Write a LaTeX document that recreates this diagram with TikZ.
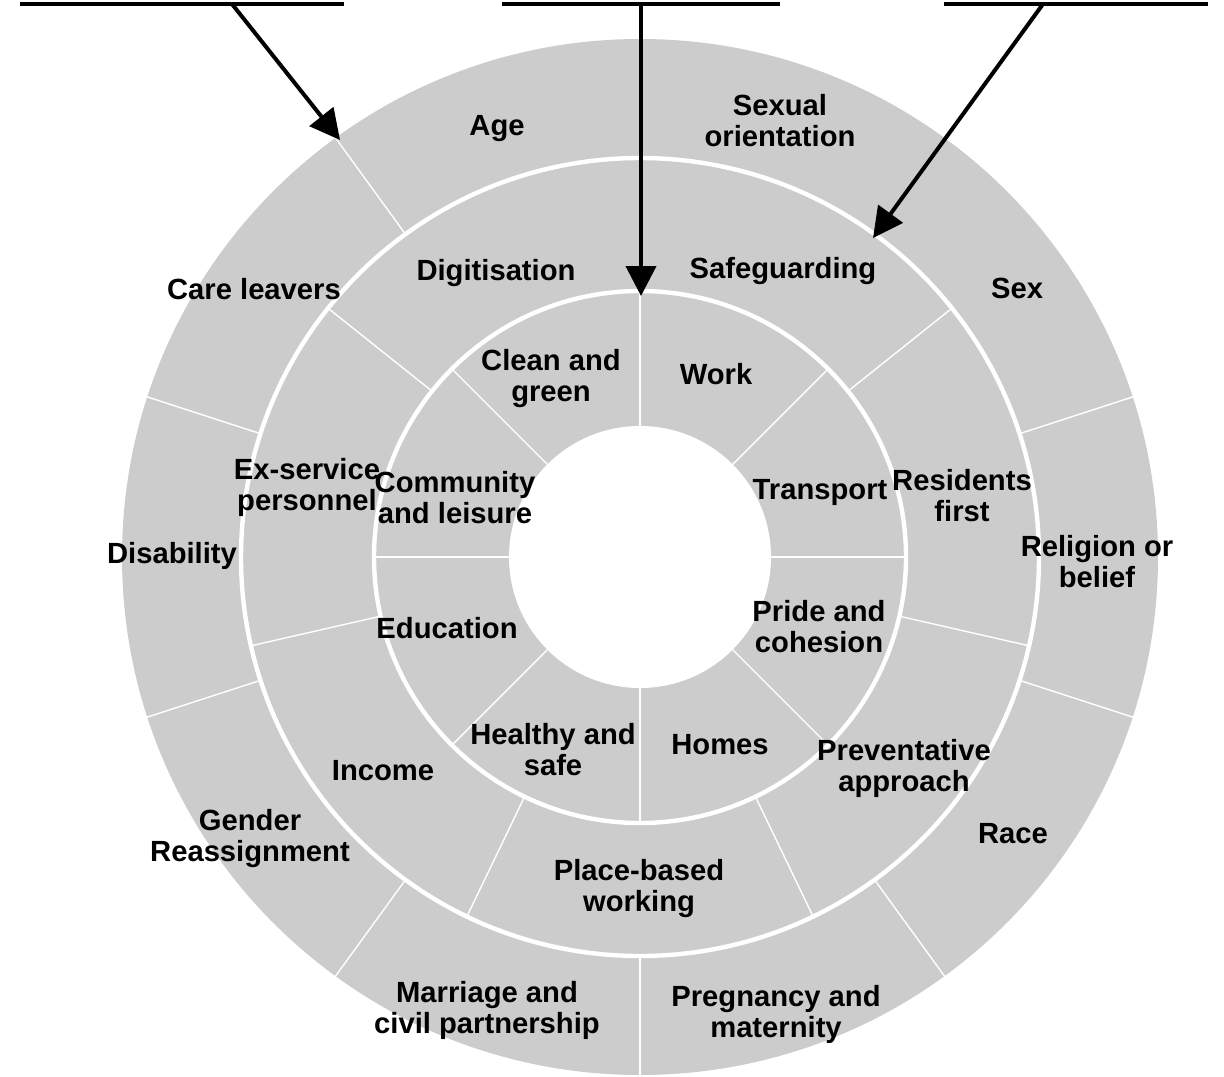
\documentclass[tikz,border=0pt]{standalone}
\usepackage{fontspec}
\setmainfont{Liberation Sans}
\usetikzlibrary{arrows.meta}
\definecolor{wheel}{RGB}{204,204,204}
\definecolor{ink}{RGB}{0,0,0}
\tikzset{
  >={Triangle[length=15pt,width=15pt]},
  lbl/.style={font={\fontsize{14.6pt}{15.5pt}\selectfont\bfseries},text=ink,align=center,inner sep=0pt},
  spoke/.style={draw=white,line width=0.7pt},
  rim/.style={draw=white,line width=2.2pt},
  bar/.style={draw=ink,line width=2.2pt},
  pointer/.style={->,draw=ink,line width=2pt},
}

\begin{document}
\begin{tikzpicture}[x=0.5pt,y=0.5pt]
  \useasboundingbox (0,0) rectangle (1224,-1076);
  \coordinate (c) at (640,-557);
  % rings
  \fill[wheel] (c) circle[radius=518];
  \fill[white] (c) circle[radius=131];
  \begin{scope}[shift={(c)}]
    \foreach \a in {0,...,9} \draw[spoke] (90+36*\a:399) -- (90+36*\a:520);
    \foreach \a in {0,...,6} \draw[spoke] (90+360/7*\a:266) -- (90+360/7*\a:399);
    \foreach \a in {0,...,7} \draw[spoke] (45*\a:130) -- (45*\a:266);
    \draw[rim] (0,0) circle[radius=399];
    \draw[rim] (0,0) circle[radius=266];
  \end{scope}
  % outer ring
  \foreach \x/\y/\t [count=\i] in {
    497/129/Age, 780/121/Sexual\\orientation, 1017/288/Sex,
    1097/562/Religion or\\belief, 1013/834/Race, 776/1014/Pregnancy and\\maternity,
    487/1010/Marriage and\\civil partnership, 250/838/Gender\\Reassignment,
    172/556/Disability, 254/289/Care leavers}
    \node[lbl] (out\i) at (\x,-\y) {\t};
  % middle ring
  \foreach \x/\y/\t [count=\i] in {
    496/273/Digitisation, 783/271/Safeguarding, 962/496/Residents\\first,
    904/768/Preventative\\approach, 639/888/Place-based\\working,
    383/771/Income, 307/487/Ex-service\\personnel}
    \node[lbl] (mid\i) at (\x,-\y) {\t};
  % inner ring
  \foreach \x/\y/\t [count=\i] in {
    551/379/Clean and\\green, 716/374/Work, 820/492/Transport,
    819/627/Pride and\\cohesion, 720/745/Homes, 553/750/Healthy and\\safe,
    447/628/Education, 455/498/Community\\and leisure}
    \node[lbl] (in\i) at (\x,-\y) {\t};
  % pointers
  \coordinate (barL1) at (20,-4);   \coordinate (barL2) at (344,-4);
  \coordinate (barM1) at (502,-4);  \coordinate (barM2) at (780,-4);
  \coordinate (barR1) at (944,-4);  \coordinate (barR2) at (1208,-4);
  \coordinate (srcL) at (232,-4);   \coordinate (tipL) at (340,-140);
  \coordinate (srcM) at (641,-4);   \coordinate (tipM) at (641,-296);
  \coordinate (srcR) at (1043,-4);  \coordinate (tipR) at (873,-238);
  \draw[bar] (barL1) -- (barL2);
  \draw[bar] (barM1) -- (barM2);
  \draw[bar] (barR1) -- (barR2);
  \draw[pointer] (srcL) -- (tipL);
  \draw[pointer] (srcM) -- (tipM);
  \draw[pointer] (srcR) -- (tipR);
\end{tikzpicture}
\end{document}
